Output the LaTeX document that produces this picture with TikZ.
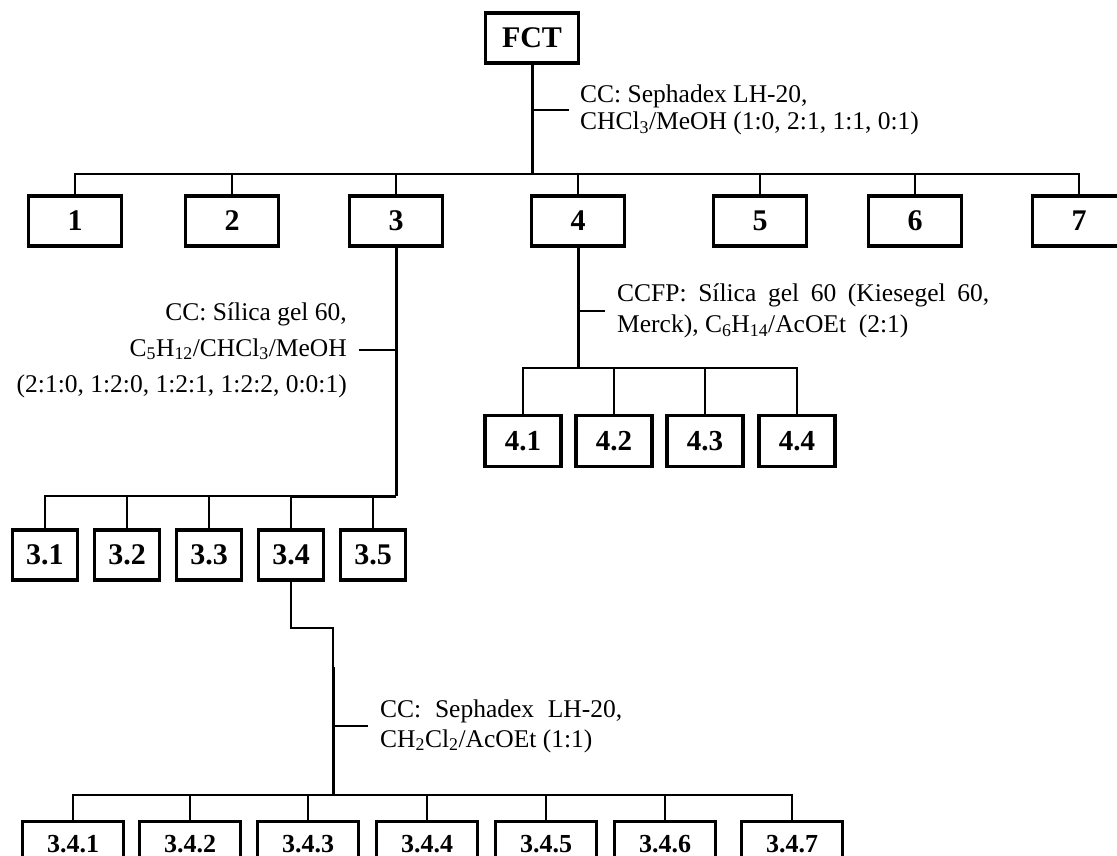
\documentclass[tikz,border=0pt]{standalone}
\usepackage{fontspec}
\setmainfont{Liberation Serif}
\usetikzlibrary{positioning}

\begin{document}
\begin{tikzpicture}[x=1pt, y=-1pt, node distance=11pt,
  box/.style={draw, line width=3.5pt, minimum width=93pt, minimum height=50pt, inner sep=0pt, font=\fontsize{30}{32}\selectfont\bfseries},
  boxfour/.style={box, minimum width=76pt, minimum height=51pt, font=\fontsize{29}{31}\selectfont\bfseries},
  boxthree/.style={box, minimum width=65pt},
  boxsub/.style={box, minimum width=101pt, minimum height=45pt, font=\fontsize{26}{28}\selectfont\bfseries},
  bar/.style={line width=2pt},
  trunk/.style={line width=3pt},
  note/.style={inner sep=0pt, font=\fontsize{25.5}{27}\selectfont}]
  \clip (0,0) rectangle (1117,856);

  % levels of the tree
  \coordinate (bus0) at (0,174);
  \coordinate (bus4) at (0,368);
  \coordinate (bus3) at (0,496);
  \coordinate (bend) at (333,628);
  \coordinate (heavy) at (333,667);
  \coordinate (bus34) at (0,795);

  \node[box] (fct) at (532,38) {FCT};
  \node[box] (f1) at (75,221) {1};
  \node[box] (f2) at (232,221) {2};
  \node[box] (f3) at (396,221) {3};
  \node[box] (f4) at (578,221) {4};
  \node[box] (f5) at (760,221) {5};
  \node[box] (f6) at (915,221) {6};
  \node[box] (f7) at (1079,221) {7};

  \node[boxfour] (f41) at (523,441) {4.1};
  \node[boxfour] (f42) at (614,441) {4.2};
  \node[boxfour] (f43) at (705,441) {4.3};
  \node[boxfour] (f44) at (797,441) {4.4};

  \node[boxthree] (f31) at (45,555) {3.1};
  \node[boxthree] (f32) at (127,555) {3.2};
  \node[boxthree] (f33) at (209,555) {3.3};
  \node[boxthree] (f34) at (291,555) {3.4};
  \node[boxthree] (f35) at (373,555) {3.5};

  \node[boxsub] (f341) at (73,844) {3.4.1};
  \node[boxsub] (f342) at (190,844) {3.4.2};
  \node[boxsub] (f343) at (308,844) {3.4.3};
  \node[boxsub] (f344) at (427,844) {3.4.4};
  \node[boxsub] (f345) at (546,844) {3.4.5};
  \node[boxsub] (f346) at (665,844) {3.4.6};
  \node[boxsub] (f347) at (792,844) {3.4.7};

  % separation steps
  \coordinate (t0) at (569,110);
  \coordinate (t3) at (359,350);
  \coordinate (t4) at (605,311);
  \coordinate (t34) at (368,726);

  \node[note, right=11pt of t0, align=left] (n0) {CC: Sephadex LH-20,\\CHCl\textsubscript{3}/MeOH (1:0, 2:1, 1:1, 0:1)};
  \node[note, left=12pt of t3, align=right, font=\fontsize{25.5}{36}\selectfont] (n3) {CC: Sílica gel 60,\\C\textsubscript{5}H\textsubscript{12}/CHCl\textsubscript{3}/MeOH\\(2:1:0, 1:2:0, 1:2:1, 1:2:2, 0:0:1)};
  \node[note, right=12pt of t4, align=left, font=\fontsize{25.5}{31}\selectfont] (n4) {\makebox[372pt][s]{CCFP: Sílica gel 60 (Kiesegel 60,}\\Merck), C\textsubscript{6}H\textsubscript{14}/AcOEt\ \ (2:1)};
  \node[note, right=12pt of t34, align=left, font=\fontsize{25.5}{30}\selectfont] (n34) {\makebox[242pt][s]{CC: Sephadex LH-20,}\\CH\textsubscript{2}Cl\textsubscript{2}/AcOEt (1:1)};

  % FCT
  \draw[trunk] (fct) -- (fct |- bus0);
  \draw[bar] (fct |- t0) -- (t0);
  \draw[bar] (f1.north) |- (f7.north |- bus0) -- (f7.north);
  \draw[bar] (f2.north) -- (f2.north |- bus0);
  \draw[bar] (f3.north) -- (f3.north |- bus0);
  \draw[bar] (f4.north) -- (f4.north |- bus0);
  \draw[bar] (f5.north) -- (f5.north |- bus0);
  \draw[bar] (f6.north) -- (f6.north |- bus0);

  % fraction 4
  \draw[trunk] (f4) -- (f4 |- bus4);
  \draw[bar] (f4 |- t4) -- (t4);
  \draw[bar] (f41.north) |- (f44.north |- bus4) -- (f44.north);
  \draw[bar] (f42.north) -- (f42.north |- bus4);
  \draw[bar] (f43.north) -- (f43.north |- bus4);

  % fraction 3
  \draw[trunk] (f3) -- (f3 |- bus3);
  \draw[bar] (f3 |- t3) -- (t3);
  \draw[bar] (f31.north) |- (f34.north |- bus3);
  \draw[trunk] (f34.north |- bus3) -- (f3 |- bus3);
  \draw[bar] (f32.north) -- (f32.north |- bus3);
  \draw[bar] (f33.north) -- (f33.north |- bus3);
  \draw[bar] (f34.north) -- (f34.north |- bus3);
  \draw[bar] (f35.north) -- (f35.north |- bus3);

  % fraction 3.4
  \draw[bar] (f34) |- (bend) -- (heavy);
  \draw[trunk] (heavy) -- (bend |- bus34);
  \draw[bar] (bend |- t34) -- (t34);
  \draw[bar] (f341.north) |- (f347.north |- bus34) -- (f347.north);
  \draw[bar] (f342.north) -- (f342.north |- bus34);
  \draw[bar] (f343.north) -- (f343.north |- bus34);
  \draw[bar] (f344.north) -- (f344.north |- bus34);
  \draw[bar] (f345.north) -- (f345.north |- bus34);
  \draw[bar] (f346.north) -- (f346.north |- bus34);
\end{tikzpicture}
\end{document}
